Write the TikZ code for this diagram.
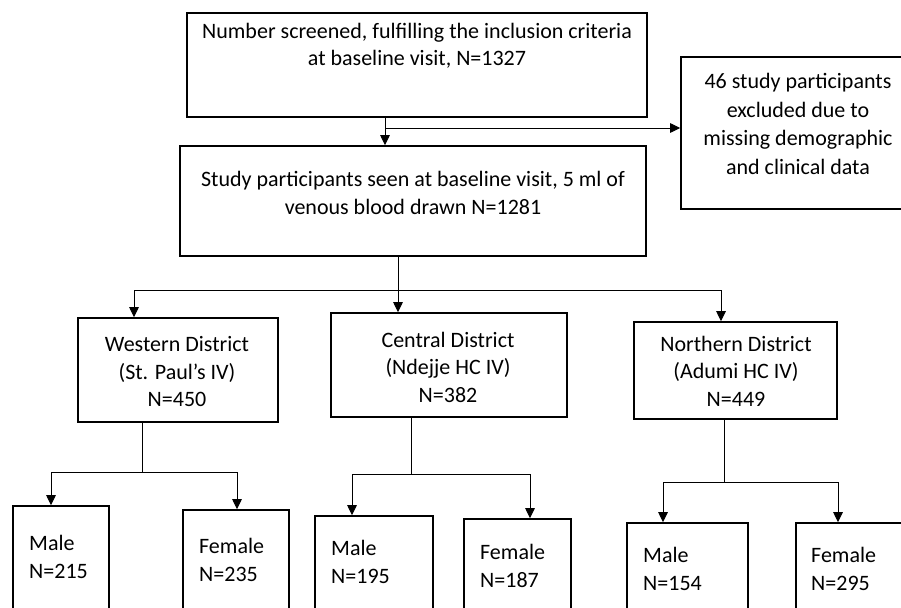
\documentclass[tikz,border=0pt]{standalone}
\usepackage{fontspec}
\setmainfont{Carlito}
\usetikzlibrary{arrows.meta}

\begin{document}
\begin{tikzpicture}[x=1pt,y=-1pt]
  % Define styles for boxes, texts and connectors
  \tikzset{
    box node/.style={draw, line width=1.6pt, inner sep=0pt},
    text node/.style={font=\fontsize{22}{27.5}\selectfont, align=center, inner sep=0pt},
    side node/.style={text node, align=left, anchor=west},
    plain line/.style={line width=1pt},
    arrow line/.style={plain line, -{Triangle[length=10pt,width=9.5pt]}}
  }

  \useasboundingbox (0,0) rectangle (901,607);
  \clip (0,0) rectangle (901,607);

  % Screening and exclusion
  \node[box node, minimum width=460pt, minimum height=104pt] (top) at (417,65) {};
  \node[text node] (toptext) at (417,46) {Number screened, fulfilling the inclusion criteria\\at baseline visit, N=1327};
  \node[box node, minimum width=234pt, minimum height=152pt] (excl) at (798,133) {};
  \node[text node, font=\fontsize{22}{28.7}\selectfont] (excltext) at (798,124) {46 study participants\\excluded due to\\missing demographic\\and clinical data};
  \node[box node, minimum width=466pt, minimum height=110pt] (mid) at (413,201) {};
  \node[text node] (midtext) at (413,193) {Study participants seen at baseline visit, 5 ml of\\venous blood drawn N=1281};

  % District row
  \node[box node, minimum width=200pt, minimum height=104pt] (westd) at (178,370) {};
  \node[text node] (westtext) at (177,372) {Western District\\(St. Paul’s IV)\\N=450};
  \node[box node, minimum width=236pt, minimum height=104pt] (centd) at (449,365) {};
  \node[text node] (centtext) at (448,367) {Central District\\(Ndejje HC IV)\\N=382};
  \node[box node, minimum width=203pt, minimum height=97pt] (northd) at (735.5,370.5) {};
  \node[text node] (northtext) at (736,371) {Northern District\\(Adumi HC IV)\\N=449};

  % Sex row
  \node[box node, minimum width=96pt, minimum height=124pt] (m1) at (61,568) {};
  \node[side node] (m1text) at (29,557) {Male\\N=215};
  \node[box node, minimum width=106pt, minimum height=124pt] (f1) at (236,572) {};
  \node[side node] (f1text) at (199,560) {Female\\N=235};
  \node[box node, minimum width=118pt, minimum height=124pt] (m2) at (374,578) {};
  \node[side node] (m2text) at (331,562) {Male\\N=195};
  \node[box node, minimum width=107pt, minimum height=124pt] (f2) at (517.5,581) {};
  \node[side node] (f2text) at (480,566) {Female\\N=187};
  \node[box node, minimum width=121pt, minimum height=124pt] (m3) at (687.5,585) {};
  \node[side node] (m3text) at (643,569) {Male\\N=154};
  \node[box node, minimum width=114pt, minimum height=124pt] (f3) at (853,585) {};
  \node[side node] (f3text) at (811,569) {Female\\N=295};

  % Connectors
  \coordinate (split0) at (385,128);
  \draw[plain line] (top.south -| split0) -- (split0);
  \draw[arrow line] (split0) -- (mid.north -| split0);
  \draw[arrow line] (split0) -- (excl.west |- split0);

  \coordinate (split1) at (398,290);
  \draw[plain line] (mid.south -| split1) -- (split1);
  \draw[arrow line] (split1) -| ([xshift=-44pt]westd.north);
  \draw[arrow line] (split1) -- (centd.north -| split1);
  \draw[arrow line] (split1) -| ([xshift=-14.5pt]northd.north);

  \coordinate (split2) at (142,472);
  \draw[plain line] (westd.south -| split2) -- (split2);
  \draw[arrow line] (split2) -| ([xshift=-10pt]m1.north);
  \draw[arrow line] (split2) -| ([xshift=1pt]f1.north);

  \coordinate (split3) at (411,474);
  \draw[plain line] (centd.south -| split3) -- (split3);
  \draw[arrow line] (split3) -| ([xshift=-22pt]m2.north);
  \draw[arrow line] (split3) -| ([xshift=12.5pt]f2.north);

  \coordinate (split4) at (724,482);
  \draw[plain line] (northd.south -| split4) -- (split4);
  \draw[arrow line] (split4) -| ([xshift=-24.5pt]m3.north);
  \draw[arrow line] (split4) -| ([xshift=-15pt]f3.north);
\end{tikzpicture}
\end{document}
